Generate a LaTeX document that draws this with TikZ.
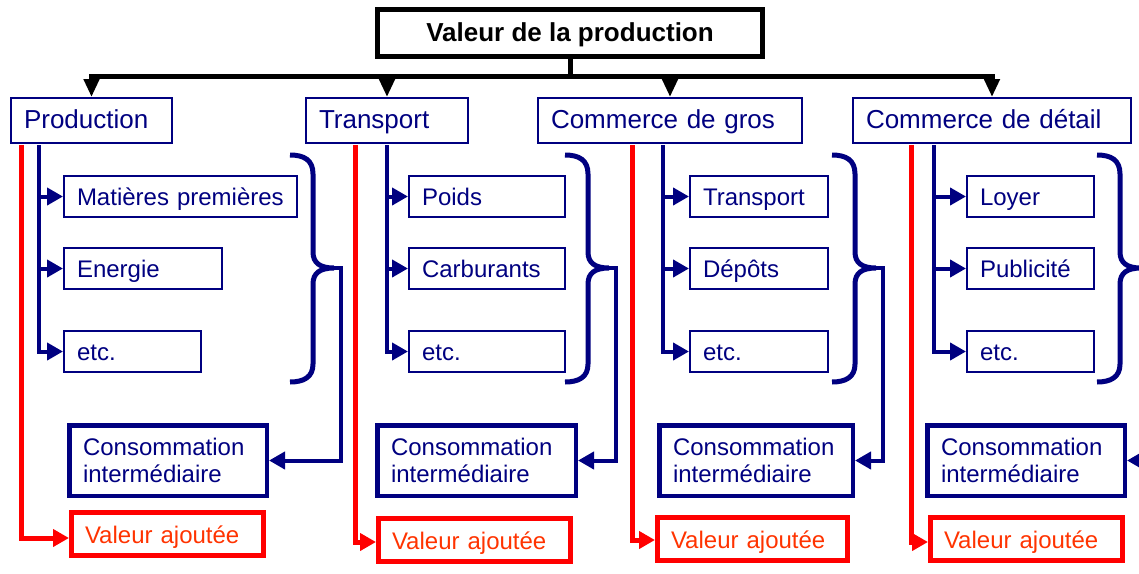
\documentclass[tikz,border=0pt]{standalone}
\usepackage{fontspec}
\setmainfont{Liberation Sans}
\usetikzlibrary{arrows.meta}
\definecolor{navyb}{RGB}{0,0,128}
\definecolor{vatext}{RGB}{255,51,0}
\begin{document}
\begin{tikzpicture}[x=1pt,y=-1pt,
 lvl/.style={draw=navyb, line width=2pt, text=navyb, font=\fontsize{26}{30}\selectfont, inner xsep=13pt, inner ysep=0pt, align=left, anchor=north west, minimum height=45pt, text height=20pt, text depth=4pt},
 sub/.style={draw=navyb, line width=2pt, text=navyb, font=\fontsize{24}{28}\selectfont, inner xsep=13pt, inner ysep=0pt, align=left, anchor=north west, minimum height=41pt, text height=19pt, text depth=2pt},
 ci/.style={draw=navyb, line width=4.5pt, text=navyb, font=\fontsize{24}{27}\selectfont, inner xsep=13.75pt, inner ysep=0pt, align=left, anchor=north west, minimum height=70.5pt},
 va/.style={draw=red, line width=5pt, text=vatext, font=\fontsize{24}{28}\selectfont, inner xsep=13.5pt, inner ysep=0pt, align=left, anchor=north west, minimum height=43pt, text height=19pt, text depth=1pt},
 topbox/.style={draw=black, line width=5pt, font=\bfseries\fontsize{26}{30}\selectfont, inner sep=0pt, anchor=north west, minimum width=385pt, minimum height=47pt, text height=20pt, text depth=2.6pt},
 blk/.style={draw=black, line width=5pt, -{Triangle[length=18pt,width=15pt]}},
 nav/.style={draw=navyb, line width=4pt, -{Triangle[length=16pt,width=17pt]}},
 redc/.style={draw=red, line width=5pt, -{Triangle[length=16pt,width=17pt]}},
 brc/.style={draw=navyb, line width=5pt},
]
\useasboundingbox (0,0) rectangle (1139,573);
\clip (0,0) rectangle (1139,573);

% top
\node[topbox] (top) at (375,7) {Valeur de la production};
\coordinate (bus) at (570,76);

% level 1
\node[lvl, text width=135pt] (prod) at (10,97) {Production};
\node[lvl, text width=136pt] (trans) at (305,97) {Transport};
\node[lvl, text width=238pt] (gros) at (537,97) {Commerce de gros};
\node[lvl, text width=252pt] (det) at (852,97) {Commerce de détail};

\draw[blk] (top.south) -- (bus) -| (prod.north);
\draw[blk] (top.south) -- (bus) -| (trans.north);
\draw[blk] (top.south) -- (bus) -| (gros.north);
\draw[blk] (top.south) -- (bus) -| (det.north);

% sub boxes
\node[sub, text width=207pt] (p1) at (63,175) {Matières premières};
\node[sub, text width=132pt] (p2) at (63,247) {Energie};
\node[sub, text width=111pt] (p3) at (63,330) {etc.};
\node[sub, text width=130pt] (t1) at (408,175) {Poids};
\node[sub, text width=130pt] (t2) at (408,247) {Carburants};
\node[sub, text width=130pt] (t3) at (408,330) {etc.};
\node[sub, text width=112pt] (g1) at (689,175) {Transport};
\node[sub, text width=112pt] (g2) at (689,247) {Dépôts};
\node[sub, text width=112pt] (g3) at (689,330) {etc.};
\node[sub, text width=101pt] (d1) at (966,175) {Loyer};
\node[sub, text width=101pt] (d2) at (966,247) {Publicité};
\node[sub, text width=101pt] (d3) at (966,330) {etc.};

% consommation intermediaire
\node[ci, text width=170pt] (c1) at (67,423) {Consommation\\intermédiaire};
\node[ci, text width=171pt] (c2) at (375,423) {Consommation\\intermédiaire};
\node[ci, text width=166pt] (c3) at (657,423) {Consommation\\intermédiaire};
\node[ci, text width=170pt] (c4) at (925,423) {Consommation\\intermédiaire};

% valeur ajoutee
\node[va, text width=165pt] (v1) at (69,510) {Valeur ajoutée};
\node[va, text width=165pt] (v2) at (376,516) {Valeur ajoutée};
\node[va, text width=163pt] (v3) at (655,515) {Valeur ajoutée};
\node[va, text width=165pt] (v4) at (928,515) {Valeur ajoutée};

% navy branch lines
\coordinate (pn) at (39,145);
\coordinate (tn) at (387,145);
\coordinate (gn) at (663,145);
\coordinate (dn) at (934,145);
\foreach \s/\b in {pn/p, tn/t, gn/g, dn/d}{
  \draw[nav] (\s) |- (\b1.west);
  \draw[nav] (\s) |- (\b2.west);
  \draw[nav] (\s) |- (\b3.west);
}

% red lines
\coordinate (pr) at (21,145);
\coordinate (tr) at (355,145);
\coordinate (gr) at (632,145);
\coordinate (dr) at (911,145);
\draw[redc] (pr) |- ([yshift=-4pt]v1.west);
\draw[redc] (tr) |- ([yshift=-2pt]v2.west);
\draw[redc] (gr) |- ([yshift=-1pt]v3.west);
\draw[redc] (dr) |- ([yshift=-3pt]v4.west);

% braces
\foreach \xs/\nm in {290/b1, 565/b2, 832/b3, 1097/b4}{
\begin{scope}[xshift=\xs pt]
\draw[brc] (0,155) .. controls (14,155) and (23,160) .. (23,174) -- (23,252)
  .. controls (23,263) and (30,268) .. (44,268)
  .. controls (30,268) and (23,273) .. (23,284) -- (23,364)
  .. controls (23,377) and (14,382) .. (0,382);
\coordinate (\nm) at (44,268);
\end{scope}
}
\draw[nav] (b1) -- ++(7,0) |- (c1.east);
\draw[nav] (b2) -- ++(7,0) |- (c2.east);
\draw[nav] (b3) -- ++(7,0) |- (c3.east);
\draw[nav] (b4) -- ++(7,0) |- (c4.east);
\end{tikzpicture}
\end{document}
